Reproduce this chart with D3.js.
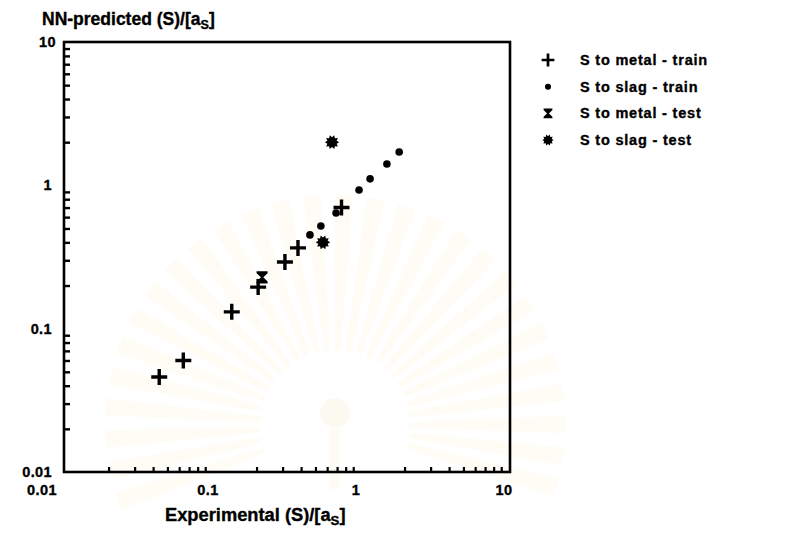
<!DOCTYPE html>
<html>
<head>
<meta charset="utf-8">
<script src="https://cdn.jsdelivr.net/npm/d3@7"></script>
<style>
  html, body { margin: 0; padding: 0; background: #fff; }
  svg { display: block; }
  text { font-family: "Liberation Sans", Arial, sans-serif; font-weight: 700; fill: #000; stroke: #000; stroke-width: 0.35px; }
</style>
</head>
<body>
<svg id="chart" width="794" height="545"></svg>
<script>
// S distribution: experimental vs network-predicted ratios (log-log)
const decadeTicks = [0.01, 0.1, 1, 10];
const decadeLabels = ["0.01", "0.1", "1", "10"];

const metalTrainX = [0.044, 0.064, 0.136, 0.205, 0.311, 0.381, 0.75];
const metalTrainY = [0.046, 0.060, 0.131, 0.195, 0.292, 0.366, 0.70];

const slagTrainX = [0.459, 0.544, 0.689, 0.985, 1.17, 1.52, 1.84];
const slagTrainY = [0.451, 0.520, 0.641, 0.928, 1.11, 1.41, 1.71];

const metalTestX = [0.218];
const metalTestY = [0.228];

const slagTestX = [0.647, 0.562];
const slagTestY = [2.00, 0.40];

const seriesNames = ["S to metal - train", "S to slag - train", "S to metal - test", "S to slag - test"];

const svg = d3.select("#chart");
const plotLeft = 64, plotRight = 508, plotTop = 42, plotBottom = 472;

const x = d3.scaleLog().domain([0.01, 10]).range([plotLeft, plotRight]);
const y = d3.scaleLog().domain([0.01, 10]).range([plotBottom, plotTop]);

// faint background emblem
const emblem = svg.append("g").attr("transform", "translate(335,425)");
const rayCount = 28;
const rayArc = d3.arc().innerRadius(75).outerRadius(230);
for (let i = 0; i < rayCount; i++) {
  const a0 = -Math.PI * 0.62 + (i / rayCount) * Math.PI * 1.24;
  const a1 = a0 + (Math.PI * 1.24 / rayCount) * 0.55;
  emblem.append("path")
    .attr("d", rayArc({ startAngle: a0, endAngle: a1 }))
    .attr("fill", "#fefcf5");
}
emblem.append("circle").attr("cx", 0).attr("cy", -12).attr("r", 15).attr("fill", "#fcfaf0");
emblem.append("rect").attr("x", -5).attr("y", 4).attr("width", 10).attr("height", 60).attr("fill", "#fdfbf3");

// minor tick values for each decade
const minorTicks = [];
[0.01, 0.1, 1].forEach(d => { for (let k = 2; k <= 9; k++) minorTicks.push(+(d * k).toPrecision(3)); });

// left axis minor ticks, pointing inward
svg.append("g")
  .attr("transform", `translate(${plotLeft},0)`)
  .call(d3.axisLeft(y).tickValues(minorTicks).tickSize(-6).tickFormat(""))
  .call(g => g.select(".domain").remove())
  .call(g => g.selectAll("line").attr("stroke", "#000").attr("stroke-width", 2.4));

// bottom axis minor ticks, pointing inward
svg.append("g")
  .attr("transform", `translate(0,${plotBottom})`)
  .call(d3.axisBottom(x).tickValues(minorTicks).tickSize(-5).tickFormat(""))
  .call(g => g.select(".domain").remove())
  .call(g => g.selectAll("line").attr("stroke", "#000").attr("stroke-width", 2.2));

// frame
svg.append("rect")
  .attr("x", plotLeft).attr("y", plotTop)
  .attr("width", plotRight - plotLeft + 2).attr("height", plotBottom - plotTop)
  .attr("fill", "none").attr("stroke", "#000").attr("stroke-width", 2.6);

// y decade labels
svg.append("g").selectAll("text")
  .data(decadeTicks)
  .join("text")
  .attr("x", (d, i) => i === 3 ? plotLeft - 8 : plotLeft - 12)
  .attr("y", d => y(d) + 5)
  .attr("text-anchor", "end")
  .attr("font-size", 14.5)
  .attr("letter-spacing", 0.4)
  .text((d, i) => decadeLabels[i]);

// x decade labels
svg.append("g").selectAll("text")
  .data(decadeTicks)
  .join("text")
  .attr("x", (d, i) => i === 0 ? x(d) - 22 : x(d) - 4)
  .attr("y", plotBottom + 23)
  .attr("text-anchor", "middle")
  .attr("font-size", 14.5)
  .attr("letter-spacing", 0.4)
  .text((d, i) => decadeLabels[i]);

// axis titles with subscript
function titleText(sel, prefix) {
  sel.append("tspan").text(prefix + " (S)/[a");
  sel.append("tspan").attr("font-size", "0.72em").attr("dy", 4).text("S");
  sel.append("tspan").attr("dy", -4).text("]");
}
svg.append("text").attr("x", 42).attr("y", 25).attr("font-size", 17.5)
  .call(t => titleText(t, "NN-predicted"));
svg.append("text").attr("x", 165).attr("y", 521).attr("font-size", 18.3)
  .call(t => titleText(t, "Experimental"));

// marker shapes
function plusPath(s) {
  const w = s, t = 1.7;
  return `M${-w},${-t}L${-t},${-t}L${-t},${-w}L${t},${-w}L${t},${-t}L${w},${-t}L${w},${t}L${t},${t}L${t},${w}L${-t},${w}L${-t},${t}L${-w},${t}Z`;
}
function hourglassPath(s) {
  return `M${-s},${-s * 1.1}L${s},${-s * 1.1}L${s},${-s * 0.75}L1.2,0L${s},${s * 0.75}L${s},${s * 1.1}L${-s},${s * 1.1}L${-s},${s * 0.75}L-1.2,0L${-s},${-s * 0.75}Z`;
}
function starPath(r) {
  const pts = [];
  const n = 10;
  for (let i = 0; i < n * 2; i++) {
    const rr = i % 2 === 0 ? r : r * 0.68;
    const a = (i / (n * 2)) * Math.PI * 2;
    pts.push([Math.cos(a) * rr, Math.sin(a) * rr]);
  }
  return "M" + pts.map(p => p.join(",")).join("L") + "Z";
}

const markers = [
  (g) => g.append("path").attr("d", plusPath(8)).attr("fill", "#000"),
  (g) => g.append("circle").attr("r", 3.8).attr("fill", "#000"),
  (g) => g.append("path").attr("d", hourglassPath(5.5)).attr("fill", "#000"),
  (g) => g.append("path").attr("d", starPath(7.2)).attr("fill", "#000")
];

const series = [
  { xs: metalTrainX, ys: metalTrainY },
  { xs: slagTrainX, ys: slagTrainY },
  { xs: metalTestX, ys: metalTestY },
  { xs: slagTestX, ys: slagTestY }
];

const plot = svg.append("g");
series.forEach((s, si) => {
  s.xs.forEach((xv, i) => {
    const g = plot.append("g").attr("transform", `translate(${x(xv)},${y(s.ys[i])})`);
    markers[si](g);
  });
});

// legend
const legend = svg.append("g");
seriesNames.forEach((name, i) => {
  const ly = 60 + i * 26.7;
  const g = legend.append("g").attr("transform", `translate(548,${ly})`);
  const m = g.append("g").attr("transform", "scale(0.8)");
  markers[i](m);
  g.append("text").attr("x", 32).attr("y", 5).attr("font-size", 14.5)
    .attr("letter-spacing", 0.8).text(name);
});
</script>
</body>
</html>
